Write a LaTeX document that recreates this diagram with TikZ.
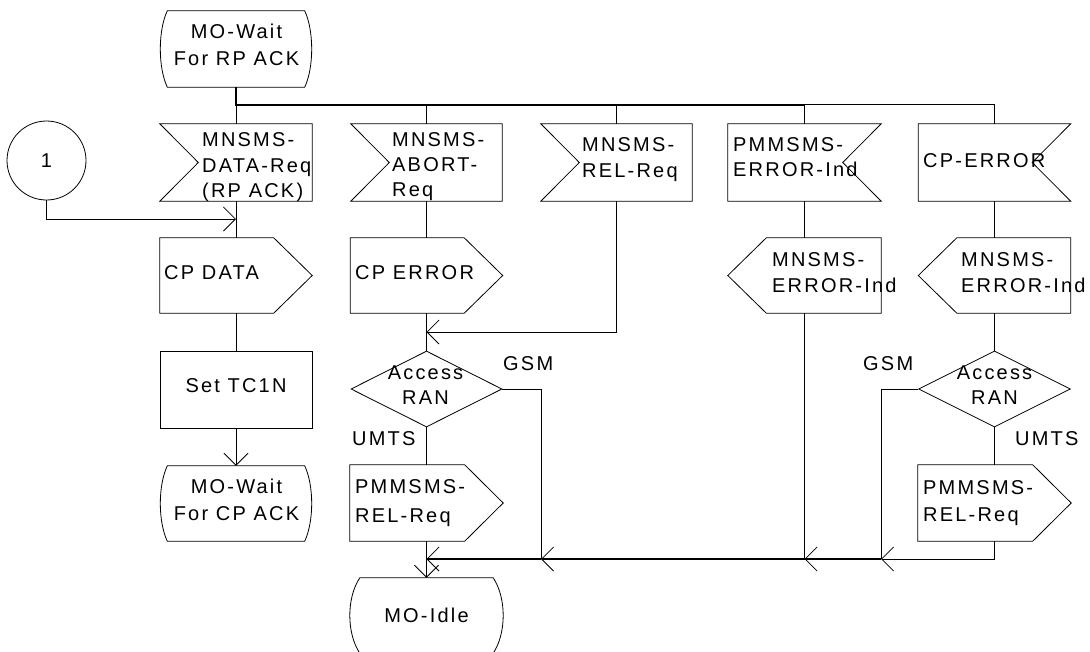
\documentclass[tikz,border=0pt]{standalone}
\usepackage{fontspec}
\setmainfont[LetterSpace=11]{Liberation Sans}
\usetikzlibrary{calc,arrows.meta,shapes.geometric}
\newcommand\shpIn[1]{\draw[ln] (#1.north west) -- (#1.north east) -- (#1.south east) -- (#1.south west) -- ($(#1.west)+(38.5,0)$) -- cycle;}
\newcommand\shpInR[1]{\draw[ln] (#1.north west) -- (#1.north east) -- ($(#1.east)+(-38.5,0)$) -- (#1.south east) -- (#1.south west) -- cycle;}
\newcommand\shpOut[1]{\draw[ln] (#1.north west) -- ($(#1.north east)+(-38.5,0)$) -- (#1.east) -- ($(#1.south east)+(-38.5,0)$) -- (#1.south west) -- cycle;}
\newcommand\shpOutL[1]{\draw[ln] (#1.west) -- ($(#1.north west)+(38.5,0)$) -- (#1.north east) -- (#1.south east) -- ($(#1.south west)+(38.5,0)$) -- cycle;}
\newcommand\shpState[2][7]{\draw[ln] ($(#2.north west)+(#1,0)$) -- ($(#2.north east)+(-#1,0)$)
  .. controls ($(#2.north east)+({#1/3},20)$) and ($(#2.south east)+({#1/3},-20)$) .. ($(#2.south east)+(-#1,0)$)
  -- ($(#2.south west)+(#1,0)$)
  .. controls ($(#2.south west)+({-#1/3},-20)$) and ($(#2.north west)+({-#1/3},20)$) .. cycle;}
\begin{document}
\begin{tikzpicture}[x=1pt,y=-1pt,
  ln/.style={line width=0.8pt},
  bus/.style={line width=2pt},
  frm/.style={rectangle,inner sep=0pt},
  txt/.style={inner sep=0pt,font=\fontsize{20}{26}\selectfont,align=left},
  ctxt/.style={inner sep=0pt,font=\fontsize{20}{26}\selectfont,align=center},
  >={Straight Barb[length=12pt,width=24pt,line width=0.8pt]}]
\fill[white] (0,0) rectangle (1090,651);
\useasboundingbox (0,0) rectangle (1090,651);

% column 1
\node[frm,minimum width=151pt,minimum height=76pt] (s1) at (236,49) {};
\node[draw,ln,circle,minimum size=79pt,inner sep=0pt,font=\fontsize{20}{24}\selectfont] (c1) at (46.5,160.5) {1};
\node[frm,minimum width=152pt,minimum height=77pt] (in1) at (236,162.5) {};
\node[frm,minimum width=152pt,minimum height=75pt] (out1) at (236,275.5) {};
\node[frm,draw,ln,minimum width=152pt,minimum height=77pt] (task1) at (236,389.5) {};
\node[frm,minimum width=151pt,minimum height=75pt] (s2) at (236,503.5) {};
% column 2
\node[frm,minimum width=151pt,minimum height=77pt] (in2) at (426.5,162.5) {};
\node[frm,minimum width=152pt,minimum height=75pt] (out2) at (426.5,275.5) {};
\node[draw,ln,diamond,minimum width=151pt,minimum height=76pt,inner sep=0pt] (dec2) at (426.5,389) {};
\node[frm,minimum width=153pt,minimum height=76pt] (rel2) at (426.5,503) {};
\node[frm,minimum width=153pt,minimum height=75pt] (idle) at (426.5,615.5) {};
% column 3
\node[frm,minimum width=151pt,minimum height=77pt] (in3) at (616.5,162.5) {};
% column 4
\node[frm,minimum width=153pt,minimum height=77pt] (in4) at (804.5,162.5) {};
\node[frm,minimum width=153pt,minimum height=75pt] (outl4) at (804.5,275.5) {};
% column 5
\node[frm,minimum width=152pt,minimum height=77pt] (in5) at (994.5,162.5) {};
\node[frm,minimum width=152pt,minimum height=75pt] (outl5) at (994.5,275.5) {};
\node[draw,ln,diamond,minimum width=152pt,minimum height=76pt,inner sep=0pt] (dec5) at (994.5,389) {};
\node[frm,minimum width=153pt,minimum height=76pt] (rel5) at (994.5,503) {};

% outlines
\shpState{s1}\shpState{s2}\shpState[10]{idle}
\shpIn{in1}\shpIn{in2}\shpIn{in3}
\shpInR{in4}\shpInR{in5}
\shpOut{out1}\shpOut{out2}\shpOut{rel2}\shpOut{rel5}
\shpOutL{outl4}\shpOutL{outl5}

% texts
\node[ctxt,font=\fontsize{20}{27}\selectfont] (ts1) at (236.5,45.3) {MO-Wait\\For RP ACK};
\node[txt,anchor=west,font=\fontsize{20}{25.5}\selectfont] (tin1) at (202,167.5) {MNSMS-\\DATA-Req\\(RP ACK)};
\node[txt,anchor=west,font=\fontsize{20}{25}\selectfont] (tin2) at (392,167) {MNSMS-\\ABORT-\\Req};
\node[txt,anchor=west] (tin3) at (582,160) {MNSMS-\\REL-Req};
\node[txt,anchor=west,font=\fontsize{20}{25}\selectfont] (tin4) at (733,157.3) {PMMSMS-\\ERROR-Ind};
\node[txt,anchor=west] (tin5) at (923,160.9) {CP-ERROR};
\node[txt,anchor=west] (tout1) at (164,272.9) {CP DATA};
\node[txt,anchor=west] (tout2) at (355,272.9) {CP ERROR};
\node[txt,anchor=west] (toutl4) at (772,272.9) {MNSMS-\\ERROR-Ind};
\node[txt,anchor=west] (toutl5) at (961,272.9) {MNSMS-\\ERROR-Ind};
\node[ctxt] (ttask1) at (236,386) {Set TC1N};
\node[ctxt,font=\fontsize{20}{25}\selectfont] (tdec2) at (425.5,385.4) {Access\\RAN};
\node[ctxt,font=\fontsize{20}{25}\selectfont] (tdec5) at (994.5,385.4) {Access\\RAN};
\node[ctxt,font=\fontsize{20}{27}\selectfont] (ts2) at (236.5,499.4) {MO-Wait\\For CP ACK};
\node[txt,anchor=west,font=\fontsize{20}{29}\selectfont] (trel2) at (355,503.5) {PMMSMS-\\REL-Req};
\node[txt,anchor=west,font=\fontsize{20}{27}\selectfont] (trel5) at (923,503.5) {PMMSMS-\\REL-Req};
\node[ctxt] (tidle) at (426.5,614.9) {MO-Idle};
\node[txt,anchor=base west] (gsm2) at (503,370) {GSM};
\node[txt,anchor=base west] (umts2) at (352,445) {UMTS};
\node[txt,anchor=base west] (gsm5) at (863,370) {GSM};
\node[txt,anchor=base west] (umts5) at (1015,445) {UMTS};

% junction coordinates
\coordinate (bt) at (0,104.5);
\coordinate (bb) at (0,559);
\coordinate (j0) at (236,219);
\coordinate (j1) at (426.5,332);
\coordinate (j2) at (idle.north |- bb);
\coordinate (j3) at (541,559);
\coordinate (j4) at (outl4.south |- bb);
\coordinate (j5) at (881,559);

% top bus
\draw[bus] (s1.south) -- (s1.south |- bt) -- (in4.north |- bt);
\draw[ln] (in4.north |- bt) -- (in5.north |- bt) -- (in5.north);
\draw[ln] (in1.north |- bt) -- (in1.north);
\draw[ln] (in2.north |- bt) -- (in2.north);
\draw[ln] (in3.north |- bt) -- (in3.north);
\draw[ln] (in4.north |- bt) -- (in4.north);

% column 1 flow
\draw[ln] (in1.south) -- (out1.north);
\draw[ln,->] (c1.south) |- (j0);
\draw[ln] (out1.south) -- (task1.north);
\draw[ln,->] (task1.south) -- (s2.north);

% column 2/3 flow
\draw[ln] (in2.south) -- (out2.north);
\draw[ln] (out2.south) -- (dec2.north);
\draw[ln,->] (in3.south) |- (j1);
\draw[ln] (dec2.south) -- (rel2.north);
\draw[ln] (dec2.east) -| (j3);
\draw[ln,->] (rel2.south) -- (idle.north);

% column 4/5 flow
\draw[ln] (in4.south) -- (outl4.north);
\draw[ln] (outl4.south) -- (j4);
\draw[ln] (in5.south) -- (outl5.north);
\draw[ln] (outl5.south) -- (dec5.north);
\draw[ln] (dec5.south) -- (rel5.north);
\draw[ln] (dec5.west) -| (j5);
\draw[ln,->] (rel5.south) |- (j5);

% bottom bus
\draw[bus,->] (j5) -- (j4);
\draw[bus,->] (j4) -- (j3);
\draw[bus,->] (j3) -- (j2);
\end{tikzpicture}
\end{document}
